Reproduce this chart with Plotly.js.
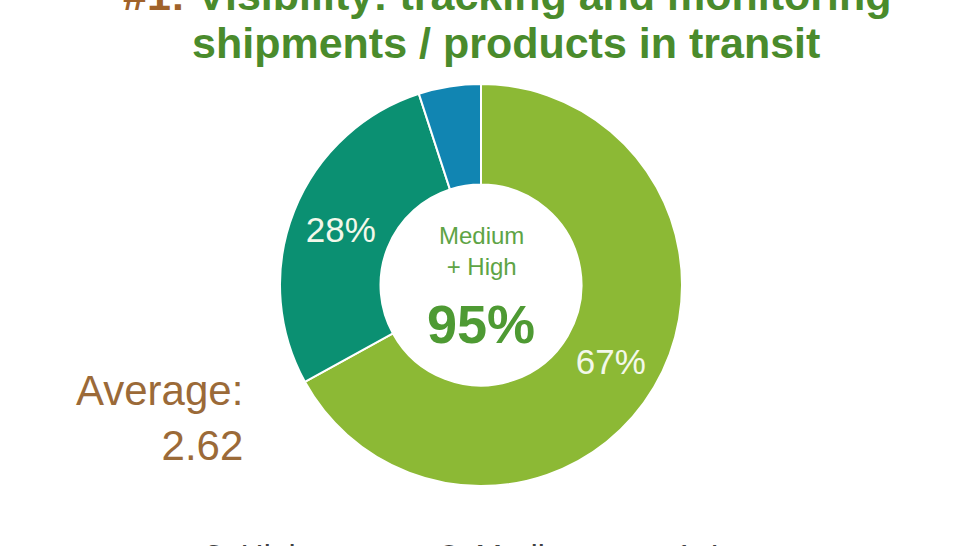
<!DOCTYPE html>
<html>
<head>
<meta charset="utf-8">
<script src="https://cdn.plot.ly/plotly-3.0.1.min.js"></script>
<style>
  html, body { margin: 0; padding: 0; background: #ffffff; }
  #chart { width: 970px; height: 546px; }
</style>
</head>
<body>
<div id="chart"></div>
<script>
// Survey answers for "#1: Visibility", share of respondents per rating
const ratings = [3, 2, 1];
const labels = ["3: High", "2: Medium", "1: Low"];
const shares = [67, 28, 5];
const sliceColors = ["#8cb935", "#0b9072", "#1185b2"];

const titleLines = [
  "Visibility: tracking and monitoring",
  "shipments / products in transit",
];
const titlePrefix = "#1:";

// Average rating and the "medium + high" share are derived from the data.
const total = shares.reduce((a, b) => a + b, 0);
const average =
  shares.reduce((acc, s, i) => acc + s * ratings[i], 0) / total;
const mediumHigh = shares
  .filter((s, i) => ratings[i] >= 2)
  .reduce((a, b) => a + b, 0);

const W = 970;
const H = 546;
const font = "Liberation Sans, Arial, sans-serif";
const cx = 481 / W;

const trace = {
  type: "pie",
  labels: labels,
  values: shares,
  sort: false,
  direction: "clockwise",
  rotation: 0,
  hole: 0.5,
  marker: {
    colors: sliceColors,
    line: { color: "#ffffff", width: 2 },
  },
  // small slices get no label, as in the original
  texttemplate: shares.map((s) => (s / total >= 0.1 ? "%{percent:.0%}" : "")),
  textposition: "inside",
  insidetextorientation: "horizontal",
  insidetextfont: { family: font, size: 35, color: "#f3f8ea" },
  hoverinfo: "none",
  domain: {
    x: [280 / W, 682 / W],
    y: [1 - 487 / H, 1 - 83 / H],
  },
};

const annotations = [
  {
    text: `<span style="color:#a0622a">${titlePrefix}</span> ${titleLines[0]}`,
    x: 507 / W,
    y: 1 + 5 / H,
    font: { family: font, size: 43, color: "#4a8b2c", weight: "bold" },
  },
  {
    text: titleLines[1],
    x: 506 / W,
    y: 1 - 43 / H,
    font: { family: font, size: 43, color: "#4a8b2c", weight: "bold" },
  },
  {
    text: "Medium<br>+ High",
    x: cx,
    y: 1 - 251 / H,
    font: { family: font, size: 24, color: "#5ea445" },
  },
  {
    text: `${mediumHigh}%`,
    x: cx,
    y: 1 - 324 / H,
    font: { family: font, size: 54, color: "#4e9a33", weight: "bold" },
  },
  {
    text: `Average:<br>${average.toFixed(2)}`,
    x: 245 / W,
    y: 1 - 418 / H,
    xanchor: "right",
    align: "right",
    font: { family: font, size: 42, color: "#9b6a38" },
  },
].map((a) =>
  Object.assign(
    { xref: "paper", yref: "paper", showarrow: false, xanchor: "center", yanchor: "middle" },
    a
  )
);

const layout = {
  width: W,
  height: H,
  margin: { l: 0, r: 0, t: 0, b: 0, autoexpand: false },
  paper_bgcolor: "#ffffff",
  plot_bgcolor: "#ffffff",
  font: { family: font, color: "#404040" },
  showlegend: true,
  // legend sits at the bottom edge, mostly cropped as in the original
  legend: {
    orientation: "h",
    x: 165 / W,
    xanchor: "left",
    y: 1 - 527 / H,
    yanchor: "top",
    entrywidth: 190,
    font: { family: font, size: 32, color: "#404040" },
  },
  annotations: annotations,
};

Plotly.newPlot("chart", [trace], layout, {
  displayModeBar: false,
  staticPlot: true,
});
</script>
</body>
</html>
